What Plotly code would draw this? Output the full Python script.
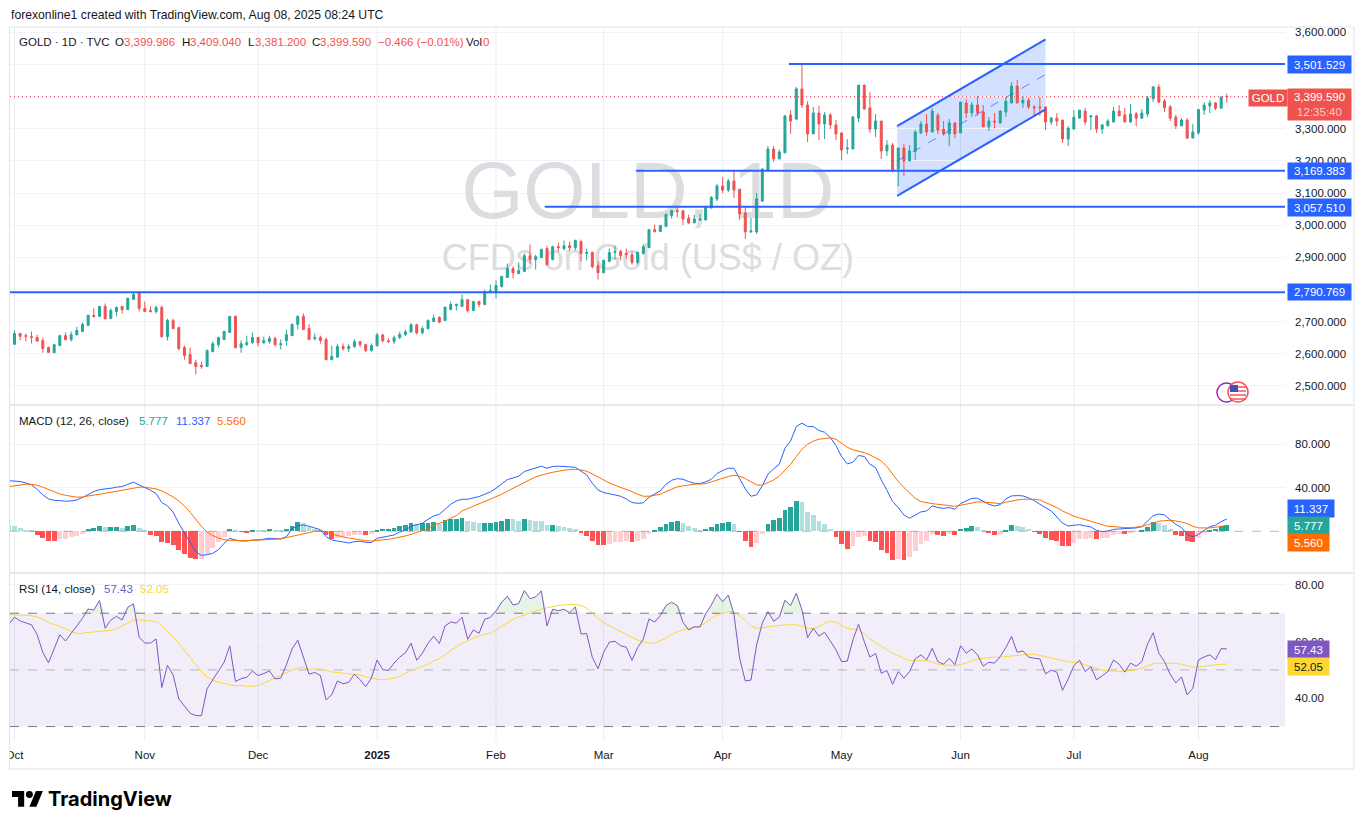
import plotly.graph_objects as go

# ---------- data ----------
open_prices = [
2629,2663,2656,2653,2650,2641,2619,2603,2625,2656,
2644,2659,2669,2688,2719,2716,2747,2709,2731,2747,
2737,2769,2790,2741,2734,2731,2744,2653,2703,2681,
2619,2597,2572,2563,2560,2606,2628,2644,2666,2716,
2619,2628,2634,2650,2634,2638,2647,2628,2641,2656,
2691,2716,2678,2647,2650,2644,2581,2589,2622,2616,
2622,2637,2628,2610,2625,2658,2640,2638,2650,2660,
2668,2690,2665,2678,2700,2713,2703,2737,2750,2747,
2768,2734,2762,2753,2790,2790,2809,2837,2865,2849,
2856,2905,2893,2899,2927,2893,2933,2927,2936,2930,
2949,2912,2915,2874,2852,2887,2915,2918,2912,2908,
2884,2912,2930,2986,2980,2996,3030,3045,3044,3022,
3007,3016,3016,3053,3081,3122,3109,3137,3112,3038,
2979,2979,3075,3172,3237,3206,3225,3343,3330,3424,
3374,3284,3349,3315,3343,3312,3287,3237,3237,3333,
3436,3365,3299,3324,3231,3249,3175,3240,3200,3230,
3287,3315,3290,3342,3299,3284,3318,3287,3380,3349,
3374,3352,3306,3324,3318,3352,3380,3433,3380,3389,
3368,3368,3368,3321,3333,3327,3268,3299,3333,3355,
3337,3340,3299,3309,3321,3355,3343,3321,3346,3333,
3346,3393,3430,3386,3368,3336,3309,3327,3271,3287,
3358,3371,3380,3364,3399.986]
high_prices = [
2672,2663,2663,2669,2659,2650,2622,2631,2659,2666,
2669,2684,2697,2722,2741,2747,2756,2741,2747,2747,
2775,2790,2794,2762,2747,2750,2750,2709,2709,2684,
2625,2619,2581,2575,2613,2638,2653,2672,2716,2719,
2641,2656,2666,2653,2653,2656,2653,2644,2675,2694,
2719,2725,2691,2663,2656,2650,2625,2631,2632,2629,
2645,2640,2631,2632,2665,2662,2648,2656,2668,2675,
2695,2693,2685,2707,2722,2716,2745,2762,2756,2784,
2768,2762,2765,2798,2815,2828,2843,2880,2871,2884,
2912,2940,2908,2927,2936,2936,2946,2952,2949,2955,
2955,2927,2918,2887,2893,2927,2936,2924,2927,2918,
2918,2940,2986,3002,2999,3036,3048,3055,3048,3032,
3032,3035,3056,3091,3128,3150,3144,3169,3112,3057,
3022,3100,3175,3246,3246,3235,3343,3358,3430,3501,
3386,3368,3371,3352,3349,3327,3290,3268,3337,3436,
3436,3414,3346,3324,3265,3256,3240,3252,3249,3296,
3324,3346,3365,3349,3324,3330,3321,3383,3392,3383,
3402,3374,3337,3349,3358,3399,3445,3452,3402,3396,
3374,3399,3368,3337,3349,3327,3308,3358,3358,3365,
3343,3343,3315,3330,3368,3374,3365,3377,3352,3361,
3402,3433,3439,3393,3374,3343,3333,3333,3315,3360,
3383,3389,3383,3403,3409.04]
low_prices = [
2629,2642,2638,2632,2639,2603,2603,2603,2625,2641,
2638,2656,2669,2688,2712,2716,2706,2709,2716,2725,
2737,2769,2731,2731,2728,2725,2650,2641,2678,2610,
2581,2569,2535,2553,2560,2606,2619,2644,2666,2616,
2603,2625,2631,2622,2631,2631,2622,2613,2625,2656,
2675,2675,2644,2641,2631,2581,2581,2589,2610,2605,
2618,2620,2605,2606,2622,2635,2633,2630,2645,2655,
2664,2660,2660,2675,2698,2695,2703,2737,2734,2747,
2728,2734,2744,2753,2790,2772,2806,2837,2834,2849,
2856,2880,2862,2899,2874,2890,2918,2921,2918,2921,
2887,2890,2865,2831,2852,2887,2893,2890,2896,2877,
2877,2908,2930,2977,2980,2996,3020,3024,3001,3004,
3007,3013,3016,3053,3075,3100,3103,3085,3016,2957,
2976,2973,3072,3172,3197,3206,3225,3284,3327,3365,
3259,3284,3265,3268,3299,3265,3203,3221,3237,3321,
3358,3287,3274,3206,3215,3165,3122,3153,3200,3203,
3284,3278,3290,3284,3278,3246,3271,3287,3333,3337,
3340,3306,3293,3301,3315,3337,3380,3380,3365,3361,
3340,3340,3296,3312,3308,3256,3246,3299,3333,3312,
3296,3287,3284,3309,3321,3340,3321,3318,3308,3330,
3337,3383,3380,3352,3324,3299,3309,3268,3271,3281,
3343,3349,3358,3364,3381.2]
close_prices = [
2663,2654,2654,2651,2639,2616,2604,2628,2656,2644,
2659,2672,2691,2719,2716,2747,2709,2734,2744,2737,
2772,2784,2741,2731,2731,2744,2653,2703,2678,2616,
2594,2569,2560,2560,2610,2631,2650,2669,2716,2619,
2631,2634,2650,2634,2641,2647,2628,2631,2659,2691,
2716,2675,2644,2650,2641,2581,2591,2622,2616,2622,
2637,2628,2610,2625,2658,2640,2638,2650,2660,2668,
2690,2665,2678,2703,2711,2698,2745,2753,2753,2768,
2734,2762,2753,2793,2796,2812,2840,2865,2852,2859,
2905,2893,2902,2924,2877,2933,2930,2936,2930,2952,
2912,2915,2871,2852,2890,2915,2918,2905,2909,2884,
2915,2933,2986,2980,2999,3033,3045,3042,3019,3007,
3019,3019,3056,3086,3122,3109,3137,3109,3035,2979,
2982,3082,3175,3237,3206,3228,3340,3324,3424,3374,
3284,3349,3315,3343,3312,3284,3234,3240,3337,3436,
3362,3299,3324,3231,3249,3169,3240,3200,3231,3290,
3315,3290,3355,3296,3284,3318,3284,3383,3349,3374,
3349,3306,3324,3321,3355,3386,3433,3380,3389,3368,
3365,3365,3321,3333,3324,3268,3302,3336,3358,3321,
3340,3299,3312,3324,3355,3340,3321,3346,3333,3349,
3396,3430,3383,3365,3333,3309,3327,3271,3290,3360,
3374,3380,3364,3398,3399.59]

# MACD pane: first value belongs to the session just left of the first candle
macd_hist = [5.7,
5.2,3.1,1.2,0.3,-3.4,-6.1,-8.9,-9.0,-7,-6.9,
-5.2,-4.3,-2.5,2.1,3.1,4.9,4,4.1,4.2,3.1,
4.9,5.8,3.1,0.3,-3.4,-4.3,-9.8,-10.7,-12.6,-17.2,
-20.8,-24.5,-25.4,-25.3,-20.8,-15.3,-9.8,-5.2,2.1,0.3,
-0.6,-0.7,1.2,1.1,1.0,2.1,1.2,0.3,2.1,4.9,
8.6,7.7,4,2.1,0.3,-3.4,-7,-6.1,-5.2,-4.3,
-3.4,-3.3,-3.5,-2.5,1.2,2.1,2.2,3.1,4.9,5.8,
7.7,6.7,7.7,7.8,8.6,6.7,10.4,11.3,11.4,12.3,
9.5,8.6,7.5,7.7,7.8,8.6,9.5,11.3,11.2,9.5,
11.3,10.4,9.5,9.4,5.8,6.0,4.9,4,3.1,2.1,
-1.5,-4.3,-8.9,-12.6,-12.7,-11.6,-9.8,-9.7,-8.9,-9.8,
-8.9,-7,-2.5,1.2,4,6.7,8.6,9.5,7.7,4.9,
3.1,1.2,2.1,4,6.7,7.7,8.6,6.7,-0.6,-8.9,
-14.4,-10.7,-2.5,6.7,10.4,12.3,19.6,22.4,27.9,27,
17.8,15,9.5,6.7,2.1,-5.2,-11.6,-16.2,-13.5,-5.2,
-4.3,-8.9,-9.8,-17.2,-19.9,-26.4,-25.4,-26.4,-23.6,-18.1,
-11.6,-8.9,-2.5,-3.4,-4.3,-2.5,-3.4,2.1,3.1,4.9,
4,0.3,-1.5,-3.4,-2.5,1.2,5.8,4.9,4,2.1,
-0.6,-2.5,-6.1,-8,-8.9,-13.5,-13.6,-10.7,-7,-6.9,
-6.1,-7,-6.4,-6.1,-3.4,-2.5,-2.6,-1.5,-0.3,1.2,
4,8.6,7.7,5.8,2.1,-3.4,-4.3,-8.9,-9.8,-6.1,
-1.5,1.2,2.1,4.9,5.777]
macd_line = [46.5,
46.3,45.7,44.4,42.6,38.6,33.4,29.7,28.5,28.2,27.6,
27.9,28.8,31,34,36.5,38.3,38.6,39.5,40.5,41.1,
43.2,45.1,42.6,40.2,37.7,34.6,26.4,23.3,17.5,7.4,
-1.8,-10.1,-19,-22.1,-21.5,-20.2,-16.9,-11,-6.4,-8,
-8.9,-8.9,-8,-8,-7,-6.4,-6.7,-7,-4.9,2.1,
5.2,5.8,4.6,3.4,1.5,-4.9,-8,-8.9,-9.8,-10.7,
-9.5,-9.2,-10.1,-10.4,-6.4,-5.5,-4.6,-3.4,-0.6,0.9,
4.6,5.8,7.4,11,14.1,15.6,20.5,24.8,27.9,29.4,
29.4,30.7,31.9,34,36.2,39.5,43.8,47.5,49,50.6,
54.9,56.7,58.5,59.8,57.9,59.5,59.8,59.8,59.2,58.8,
54.9,51.8,44.1,38,35.6,34.6,33.7,32.2,29.7,26.4,
25.7,26.1,31.3,34.3,37.1,43.2,46.9,48.4,47.8,45.7,
44.1,43.8,45.4,47.8,53,55.8,57.9,57.9,48.1,38.9,
32.2,33.4,41.7,52.4,57.3,61.6,76.3,83,96.2,99.3,
96.2,96.2,92.6,91,86.1,78.8,68.7,61.9,63.4,69.6,
68.7,61.6,58.5,47.2,37.7,27.3,21.8,15,12,14.7,
17.8,18.7,23.3,21.8,21.1,21.8,20.2,25.4,28.2,30.3,
30.3,27.3,24.8,23.3,24.5,29.7,32.5,32.8,32.5,30.7,
28.2,24.8,21.8,18.7,13.2,7.4,4.9,5.2,6.1,4.9,
4,0.9,-0.3,0.3,1.8,2.1,2.5,2.8,3.1,4.3,
9.5,14.4,15.9,15,10.4,6.4,3.4,-2.8,-5.2,-2.8,
0.9,4.3,5.5,8.9,11.337]
macd_signal = [41,
41.7,42.6,43.2,43.2,42.3,40.5,38.3,35.9,34.3,33.1,
31.9,31.3,31.6,32.2,33.1,34,34.9,35.9,36.5,37.4,
38.3,39.5,40.5,40.5,39.8,38.9,37.1,34.6,31.6,27.9,
23.3,17.5,10.7,4.6,-0.9,-4,-6.1,-7.7,-8.3,-8.6,
-8.6,-8.6,-8.3,-8,-7.7,-7.4,-7,-7,-5.8,-4.6,
-3.4,-1.8,-0.6,0,0.3,-0.6,-2.5,-4,-5.2,-6.1,
-7,-8,-8.6,-8.9,-8.6,-8,-7.4,-6.4,-5.5,-4.3,
-2.8,-1.2,0.6,2.5,5.5,7,9.2,12,14.4,18.7,
20.8,23,25.1,27,29.4,31.3,34,36.8,39.5,42.6,
45.4,47.5,50,51.8,53,54.2,55.5,56.1,56.7,57,
56.4,55.2,52.7,49.7,46.9,44.4,42.3,40.5,38.6,36.5,
34,32.2,32.2,32.8,34,36.5,38.6,40.8,41.7,42.6,
43.2,43.5,43.8,45.4,47.2,49,50.3,51.5,50.6,48.4,
45.4,42.6,42.3,44.4,47.2,50.6,56.4,61.6,68.7,75.4,
80,82.8,84.6,85.5,85.8,84.6,80.9,77.2,74.8,73.6,
72.3,70.2,67.8,64.7,59.5,52.4,45.7,40.2,34.9,30.3,
27.3,26.1,25.4,24.8,24.2,23.6,23,23.9,24.8,26.1,
27,27,26.4,25.7,25.4,26.7,27.9,28.8,29.4,29.7,
29.4,28.8,26.7,23.9,21.8,18.7,15.9,13.8,12.3,10.7,
9.2,7.7,5.8,4.6,4.3,3.7,3.4,3.4,3.7,4.3,
6.1,8,9.2,9.8,10.1,9.5,8.6,7,4.6,3.1,
2.8,3.1,3.7,4.9,5.56]

rsi_line = [66.1,
68.6,67.3,66.6,65.9,62.4,56.2,52.5,57.6,62.4,60.2,
62.9,65.3,68.2,71.5,71.1,74.5,64.7,67.6,68.9,67.6,
72.1,73.3,61.5,59.5,59.5,60.9,43.8,51.6,48.2,39.8,
37.4,34.7,33.9,33.8,43.4,46.4,49.4,52.7,58.5,45.9,
46.9,47.4,49.6,48,48.7,49.6,46.8,47.1,51.8,57.4,
60.5,54.5,48.5,49.1,48,39.4,41.2,46.1,45.1,45.6,
48.5,46.5,44.1,47.1,53.5,50.1,49.8,52.4,54.5,56,
59.4,53.4,55.9,59.4,61.9,59.3,65.5,66.9,66.5,68.6,
60.8,64.1,62.9,67.9,68.5,70.8,73.9,76,72.9,73.4,
78,75.1,75.8,77.9,65.5,71.4,70.9,71.4,70.2,72.2,
62.7,62.8,54.4,50.4,56.2,59.8,60.1,58.5,58,53.4,
57.9,60.9,68,66.9,69.1,72.7,73.9,72.7,66.8,64.1,
65.2,65.1,69.8,72.9,76.7,74.1,76.4,69.6,54.1,46.1,
46.4,58.8,66.5,70.6,67.2,68.6,74.6,72.7,77.1,71.2,
61.4,64.7,61.9,63.3,60,57.1,52.9,53.1,60.6,66.1,
60,54.5,55.8,48.8,49.8,44.9,49.4,47.1,49.4,53.9,
55.3,53.5,57.6,52.9,52,54.1,51.8,58.5,55.9,57.4,
55.3,51.3,52.7,52.4,54.7,57.9,61.8,56.2,56.7,54.5,
54.1,53.9,48.6,49.9,49.2,42.8,46.8,51.5,53.4,49.4,
51.1,46.5,47.9,49.4,53.5,52,49.2,52.4,51.3,52.9,
59.1,63.1,55.9,52.9,48.5,45.4,47.5,41.2,43.5,53.5,
54.6,55.3,53.6,57.5,57.43]
rsi_average = [69.6,
69.3,69.4,69.3,69.1,68.7,67.9,66.7,66.1,65.4,64.5,
63.5,62.9,62.9,63.2,63.4,63.6,63.9,64,64.5,65.5,
66.6,67.6,67.6,67.5,67.4,67.1,65.5,63.8,61.8,59.4,
57.1,54.4,51.8,49.4,47.5,46.4,45.6,45.3,44.7,44.4,
44.5,44.2,44.2,44.6,45.4,46.2,47.3,48.2,49.1,49.8,
50.7,50.8,50.2,50.3,50.3,49.8,49.3,49.1,48.8,48.6,
48.5,48.2,47.6,47.2,46.7,46.6,46.7,47.1,47.6,48.8,
50,50.4,51.1,52,53.2,53.9,55.3,56.9,58.2,59.4,
60.4,61.2,62,62.6,62.9,64.2,65.6,66.8,67.9,68.7,
69.4,70.1,70.7,71.4,71.9,72.4,72.8,72.9,73.1,73.2,
72.7,71.8,70.1,68.2,66.7,65.6,64.5,63.3,62.5,61.4,
60.5,59.9,59.5,59.4,60.2,61.2,62.6,63.5,64.2,64.7,
65.2,65.5,66.5,68.2,69.4,70.1,70.6,70.6,69.2,67.4,
65.5,64.7,64.8,65.2,65.4,65.8,65.9,65.9,65.9,65.5,
64.7,64.6,65.2,66.5,67.2,66.8,65.6,64.6,64.4,64.1,
62.8,60.9,59.6,58.5,57.1,55.9,55.1,54.1,53.3,53.2,
53.2,53.2,52.8,52,51.8,51.6,51.5,51.9,52.4,53.2,
53.8,54.1,54.4,54.5,54.5,54.7,55.1,55.2,55.4,55.5,
55.5,55.2,54.7,54.2,53.8,53.3,52.8,52.7,52.6,51.8,
51.1,50.4,49.9,49.6,49.5,49.5,49.6,49.8,50,50.6,
51.4,52.2,52.4,52.4,52.3,52.3,52,51.5,50.9,51.1,
51.4,51.6,51.8,52,52.05]

month_index = [0, 23, 43, 64, 85, 104, 125, 146, 167, 187, 209]
month_labels = ["Oct", "Nov", "Dec", "<b>2025</b>", "Feb", "Mar", "Apr", "May", "Jun", "Jul", "Aug"]

price_ticks = [3600, 3500, 3400, 3300, 3200, 3100, 3000, 2900, 2800, 2700, 2600, 2500]
macd_ticks = [80, 40]
rsi_ticks = [80, 60, 40]

level_values = [3501.529, 3169.383, 3057.510, 2790.769]
level_starts = [136.7, 109.7, 93.6, -0.8]
last_price = 3399.590

channel_x = [155.8, 182.0]
channel_upper = [3308, 3578]
channel_lower = [3091, 3360]
channel_middle = [3199.5, 3469]

# ---------- constants ----------
W, H = 1364, 829
FONT = "Liberation Sans"
INK = "#131722"
GREEN, RED = "#26A69A", "#EF5350"
BLUE, ORANGE = "#2962FF", "#FF6D00"
PURPLE, YELLOW = "#7E57C2", "#FDD835"
X_MIN, X_MAX = -0.794, 224.27
def px(x): return x / W
def py(y): return 1 - y / H

n = len(close_prices)
assert len(open_prices) == len(high_prices) == len(low_prices) == n == 215
assert len(macd_hist) == len(macd_line) == len(macd_signal) == len(rsi_line) == len(rsi_average) == n + 1
idx = list(range(n))
idx_lead = list(range(-1, n))

hist_colors = []
for k, v in enumerate(macd_hist):
    prev = macd_hist[k - 1] if k else v + 1
    if v >= 0:
        hist_colors.append("#26A69A" if v > prev else "#B2DFDB")
    else:
        hist_colors.append("#FF5252" if v < prev else "#FFCDD2")

fig = go.Figure()

# watermark in the base subplot, under the overlaying price subplot
fig.add_trace(go.Scatter(x=[111.8], y=[0.548], mode="text", text=["GOLD, 1D"], yaxis="y",
                         textfont=dict(family="Liberation Sans", size=80, color="#DCDDE0"),
                         hoverinfo="skip"))
fig.add_trace(go.Scatter(x=[111.8], y=[0.380], mode="text", text=["CFDs on Gold (US$ / OZ)"], yaxis="y",
                         textfont=dict(family="Liberation Sans", size=36, color="#DCDDE0"),
                         hoverinfo="skip"))

fig.add_trace(go.Candlestick(x=idx, open=open_prices, high=high_prices, low=low_prices, close=close_prices,
                             yaxis="y2", whiskerwidth=0, hoverinfo="skip",
                             increasing=dict(line=dict(color=GREEN, width=1), fillcolor=GREEN),
                             decreasing=dict(line=dict(color=RED, width=1), fillcolor=RED)))

# price level lines and last price
fig.add_trace(go.Scatter(x=[X_MIN, X_MAX], y=[last_price, last_price], yaxis="y2", mode="lines",
                         line=dict(color="#F23645", width=1, dash="1px,3px"), hoverinfo="skip"))
for value, start in zip(level_values, level_starts):
    fig.add_trace(go.Scatter(x=[start, X_MAX], y=[value, value], yaxis="y2", mode="lines",
                             line=dict(color=BLUE, width=2), hoverinfo="skip"))
# channel
fig.add_trace(go.Scatter(x=channel_x, y=channel_upper, yaxis="y2", mode="lines",
                         line=dict(color=BLUE, width=2), hoverinfo="skip"))
fig.add_trace(go.Scatter(x=channel_x, y=channel_lower, yaxis="y2", mode="lines",
                         line=dict(color=BLUE, width=2), hoverinfo="skip"))
fig.add_trace(go.Scatter(x=channel_x, y=channel_middle, yaxis="y2", mode="lines",
                         line=dict(color="rgba(41,98,255,0.7)", width=1, dash="dash"), hoverinfo="skip"))

# MACD
fig.add_trace(go.Bar(x=idx_lead, y=macd_hist, yaxis="y3", marker=dict(color=hist_colors, line=dict(width=0)),
                     width=0.85, hoverinfo="skip"))
fig.add_trace(go.Scatter(x=idx_lead, y=macd_line, yaxis="y3", mode="lines",
                         line=dict(color=BLUE, width=1), hoverinfo="skip"))
fig.add_trace(go.Scatter(x=idx_lead, y=macd_signal, yaxis="y3", mode="lines",
                         line=dict(color=ORANGE, width=1), hoverinfo="skip"))

# RSI overbought fill
fig.add_trace(go.Scatter(x=idx_lead, y=[70] * len(idx_lead), yaxis="y4", mode="lines",
                         line=dict(width=0), hoverinfo="skip"))
fig.add_trace(go.Scatter(x=idx_lead, y=[max(v, 70) for v in rsi_line], yaxis="y4", mode="lines",
                         line=dict(width=0), fill="tonexty", fillcolor="rgba(76,175,80,0.14)", hoverinfo="skip"))
fig.add_trace(go.Scatter(x=idx_lead, y=rsi_average, yaxis="y4", mode="lines",
                         line=dict(color=YELLOW, width=1), hoverinfo="skip"))
fig.add_trace(go.Scatter(x=idx_lead, y=rsi_line, yaxis="y4", mode="lines",
                         line=dict(color=PURPLE, width=1), hoverinfo="skip"))

# ---------- shapes ----------
shapes = []
GRID = "#F0F3FA"
EDGE = "#E0E3EB"
for m in month_index:
    shapes.append(dict(type="line", xref="x", yref="paper", x0=m, x1=m, y0=py(741), y1=py(27),
                       line=dict(color="#EAEDF4", width=1), layer="below"))
# channel fill
shapes.append(dict(type="path", xref="x", yref="y2", layer="below", line=dict(width=0),
                   fillcolor="rgba(41,98,255,0.2)",
                   path=f"M {channel_x[0]},{channel_lower[0]} L {channel_x[1]},{channel_lower[1]} "
                        f"L {channel_x[1]},{channel_upper[1]} L {channel_x[0]},{channel_upper[0]} Z"))
# zero line
shapes.append(dict(type="line", xref="x", yref="y3", x0=X_MIN, x1=X_MAX, y0=0, y1=0, layer="above",
                   line=dict(color="rgba(120,123,134,0.5)", width=1, dash="dash")))
# RSI band
shapes.append(dict(type="rect", xref="x", yref="y4", x0=X_MIN, x1=X_MAX, y0=30, y1=70, layer="below",
                   line=dict(width=0), fillcolor="rgba(126,87,194,0.1)"))
for lvl, col in [(70, "#787B86"), (30, "#787B86"), (50, "rgba(120,123,134,0.5)")]:
    shapes.append(dict(type="line", xref="x", yref="y4", x0=X_MIN, x1=X_MAX, y0=lvl, y1=lvl, layer="below",
                       line=dict(color=col, width=1, dash="dash")))
# clip of left edge of the time axis
shapes.append(dict(type="rect", xref="paper", yref="paper", x0=0, x1=px(10), y0=py(769), y1=py(741),
                   fillcolor="white", line=dict(width=0), layer="above"))
# pane frame and separators
shapes.append(dict(type="rect", xref="paper", yref="paper", x0=px(9.5), x1=px(1354), y0=py(769), y1=py(27),
                   line=dict(color=EDGE, width=1), layer="above"))
for y in (405, 573):
    shapes.append(dict(type="line", xref="paper", yref="paper", x0=px(9.5), x1=px(1354), y0=py(y), y1=py(y),
                       line=dict(color=EDGE, width=1.5), layer="above"))

# event icons
shapes.append(dict(type="circle", xref="paper", yref="paper", layer="above",
                   x0=px(1217), x1=px(1236), y0=py(402), y1=py(383),
                   fillcolor="white", line=dict(color="#9C27B0", width=1.5)))
shapes.append(dict(type="circle", xref="paper", yref="paper", layer="above",
                   x0=px(1228), x1=px(1248), y0=py(402), y1=py(382),
                   fillcolor="#FFFFFF", line=dict(color="#F7525F", width=1.5)))
for yy in (387, 391, 395, 399):
    shapes.append(dict(type="line", xref="paper", yref="paper", layer="above",
                       x0=px(1230), x1=px(1246), y0=py(yy), y1=py(yy),
                       line=dict(color="#F7525F", width=1.5)))
shapes.append(dict(type="rect", xref="paper", yref="paper", layer="above",
                   x0=px(1230), x1=px(1238), y0=py(392), y1=py(385),
                   fillcolor="#3F51B5", line=dict(width=0)))

# TradingView logo
S, LX, LY = 0.87, 12, 787.5
def P(x, y): return f"{px(LX + S * x)},{py(LY + S * y)}"
for pts in ([(14, 22), (7, 22), (7, 11), (0, 11), (0, 4), (14, 4)],
            [(28, 22), (20, 22), (27.5, 4), (35.5, 4)]):
    path = "M " + " L ".join(P(a, b) for a, b in pts) + " Z"
    shapes.append(dict(type="path", xref="paper", yref="paper", path=path,
                       fillcolor="#000000", line=dict(width=0), layer="above"))
shapes.append(dict(type="circle", xref="paper", yref="paper", layer="above",
                   x0=px(LX + S * 16), x1=px(LX + S * 24), y0=py(LY + S * 12), y1=py(LY + S * 4),
                   fillcolor="#000000", line=dict(width=0)))

# ---------- annotations ----------
ann = []
def label(text, x, y, color=INK, size=11.5, family=FONT):
    ann.append(dict(text=text, xref="paper", yref="paper", x=px(x), y=py(y), xanchor="left", yanchor="middle",
                    showarrow=False, font=dict(family=family, size=size, color=color), borderpad=0))
def tag(text, x, y0, y1, w, bg, color="white", size=11.5, align="center"):
    ann.append(dict(text=text, xref="paper", yref="paper", x=px(x), y=py((y0 + y1) / 2), xanchor="left",
                    yanchor="middle", width=w, height=y1 - y0, align=align, valign="middle", bgcolor=bg,
                    showarrow=False, font=dict(family=FONT, size=size, color=color), borderpad=0))

label("forexonline1 created with TradingView.com, Aug 08, 2025 08:24 UTC", 10, 15, size=12.2)
label("GOLD · 1D · TVC", 18, 42)
label("O", 114, 42)
label("3,399.986", 123, 42, RED)
label("H", 181, 42)
label("3,409.040", 189, 42, RED)
label("L", 247, 42)
label("3,381.200", 254, 42, RED)
label("C", 311, 42)
label("3,399.590", 319, 42, RED)
label("−0.466 (−0.01%)", 377, 42, RED)
label("Vol", 465, 42)
label("0", 482, 42, RED)

label("MACD (12, 26, close)", 18, 421)
label("5.777", 138, 421, GREEN)
label("11.337", 175, 421, BLUE)
label("5.560", 216, 421, ORANGE)

label("RSI (14, close)", 18, 589)
label("57.43", 103, 589, PURPLE)
label("52.05", 139, 589, YELLOW)

tag("3,501.529", 1287, 56, 73, 63, BLUE)
tag("3,399.590<br><span style='color:rgba(255,255,255,0.7)'>12:35:40</span>", 1287, 89, 120, 63, RED)
tag("GOLD", 1248, 90, 106, 38, RED)
tag("3,169.383", 1287, 163, 179, 63, BLUE)
tag("3,057.510", 1287, 199, 216, 63, BLUE)
tag("2,790.769", 1287, 284, 300, 63, BLUE)
tag("11.337", 1287, 500, 517, 46, BLUE)
tag("5.777", 1287, 517, 534, 41, GREEN)
tag("5.560", 1287, 534, 551, 41, ORANGE)
tag("57.43", 1287, 641, 658, 41, PURPLE)
tag("52.05", 1287, 658, 675, 41, YELLOW, color=INK)

label("<b>TradingView</b>", 47, 799, "#000000", 20, "Inter")

# ---------- layout ----------
MAIN_DOM = [py(405), py(27)]
MACD_DOM = [py(573), py(405)]
RSI_DOM = [py(741), py(573)]
tickfont = dict(family=FONT, size=11.5, color=INK)
yaxis_common = dict(side="right", anchor="x", showline=False, zeroline=False, ticks="", automargin=False,
                    gridcolor=GRID, gridwidth=1, tickfont=tickfont, ticklabelstandoff=9, ticklabeloverflow="allow")

fig.update_layout(
    width=W, height=H, margin=dict(l=0, r=0, t=0, b=0, pad=0),
    paper_bgcolor="white", plot_bgcolor="white",
    showlegend=False, hovermode=False, boxgap=0.5, bargap=0,
    font=dict(family=FONT, color=INK),
    xaxis=dict(domain=[px(10), px(1285)], range=[X_MIN, X_MAX], anchor="y4", showgrid=False, zeroline=False,
               showline=False, ticks="", tickmode="array", tickvals=month_index, ticktext=month_labels, automargin=False,
               tickfont=tickfont, ticklabelstandoff=5, rangeslider=dict(visible=False), ticklabeloverflow="allow"),
    yaxis=dict(domain=MAIN_DOM, range=[0, 1], visible=False, fixedrange=True, automargin=False),
    yaxis2=dict(yaxis_common, overlaying="y", range=[2440.2, 3616.7], tickmode="array", tickvals=price_ticks,
                tickformat=",.3f"),
    yaxis3=dict(yaxis_common, domain=MACD_DOM, range=[-38.3, 116], tickmode="array", tickvals=macd_ticks,
                tickformat=".3f"),
    yaxis4=dict(yaxis_common, domain=RSI_DOM, range=[24.9, 84.2], tickmode="array", tickvals=rsi_ticks,
                tickformat=".2f"),
    shapes=shapes, annotations=ann,
)

fig.write_html("out.html", config={"displayModeBar": False},
               post_script="document.body.style.margin='0';document.documentElement.style.overflow='hidden';")
